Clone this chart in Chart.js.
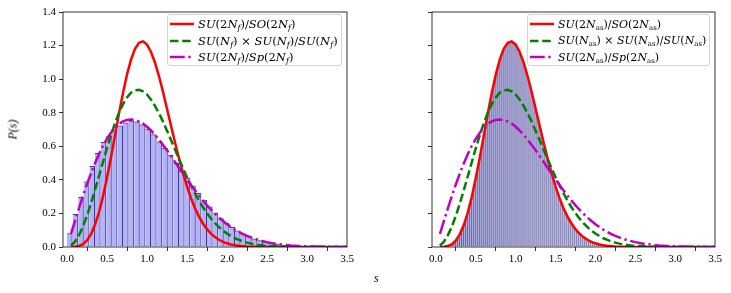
<!DOCTYPE html>
<html lang="en">
<head>
<meta charset="UTF-8">
<title>Level spacing distributions</title>
<script src="https://cdn.jsdelivr.net/npm/chart.js"></script>
<style>
  body { margin: 0; background: #fff; width: 731px; height: 293px; position: relative; overflow: hidden; font-family: 'Liberation Serif', serif; }
  canvas { position: absolute; top: 0; }
  .legend { position: absolute; top: 14px; height: 52px; background: rgba(255,255,255,0.85); border: 1px solid #d4d4d4; border-radius: 3px; font-family: 'DejaVu Serif', serif; font-size: 11.5px; padding: 1px 3px 0 2px; box-sizing: border-box; }
  .legend .row { display: flex; align-items: center; white-space: nowrap; height: 16.5px; }
  .legend svg { margin-right: 4px; flex: none; }
  .legend sub { font-size: 8px; vertical-align: -2px; line-height: 0; }
  .legend.as { font-size: 11px; }
  .legend.as sub { font-size: 7px; }
  .lbl { position: absolute; font-size: 12px; font-style: italic; }
</style>
</head>
<body>
<canvas id="left" width="360" height="293" style="left:0"></canvas>
<canvas id="right" width="361" height="293" style="left:370px"></canvas>

<div class="legend" style="left:167px; width:175px;">
  <div class="row"><svg width="24" height="6"><line x1="0" y1="3" x2="24" y2="3" stroke="#ff0000" stroke-width="2.5"/></svg><span><i>SU</i>(2<i>N</i><sub><i>f</i></sub>)/<i>SO</i>(2<i>N</i><sub><i>f</i></sub>)</span></div>
  <div class="row"><svg width="24" height="6"><line x1="0" y1="3" x2="24" y2="3" stroke="#008000" stroke-width="2.5" stroke-dasharray="8.5 3.7"/></svg><span><i>SU</i>(<i>N</i><sub><i>f</i></sub>) × <i>SU</i>(<i>N</i><sub><i>f</i></sub>)/<i>SU</i>(<i>N</i><sub><i>f</i></sub>)</span></div>
  <div class="row"><svg width="24" height="6"><line x1="0" y1="3" x2="24" y2="3" stroke="#bf00bf" stroke-width="2.5" stroke-dasharray="14.7 3.7 2.3 3.7"/></svg><span><i>SU</i>(2<i>N</i><sub><i>f</i></sub>)/<i>Sp</i>(2<i>N</i><sub><i>f</i></sub>)</span></div>
</div>
<div class="legend as" style="left:527px; width:183px;">
  <div class="row"><svg width="24" height="6"><line x1="0" y1="3" x2="24" y2="3" stroke="#ff0000" stroke-width="2.5"/></svg><span><i>SU</i>(2<i>N</i><sub>as</sub>)/<i>SO</i>(2<i>N</i><sub>as</sub>)</span></div>
  <div class="row"><svg width="24" height="6"><line x1="0" y1="3" x2="24" y2="3" stroke="#008000" stroke-width="2.5" stroke-dasharray="8.5 3.7"/></svg><span><i>SU</i>(<i>N</i><sub>as</sub>) × <i>SU</i>(<i>N</i><sub>as</sub>)/<i>SU</i>(<i>N</i><sub>as</sub>)</span></div>
  <div class="row"><svg width="24" height="6"><line x1="0" y1="3" x2="24" y2="3" stroke="#bf00bf" stroke-width="2.5" stroke-dasharray="14.7 3.7 2.3 3.7"/></svg><span><i>SU</i>(2<i>N</i><sub>as</sub>)/<i>Sp</i>(2<i>N</i><sub>as</sub>)</span></div>
</div>

<div class="lbl" style="left:0px; top:122px; transform:rotate(-90deg); transform-origin:center; width:26px; text-align:center;"><i>P</i>(<i>s</i>)</div>
<div class="lbl" style="left:374px; top:271px;">s</div>

<script>
// axis ticks
const xTicks = [0, 0.5, 1.0, 1.5, 2.0, 2.5, 3.0, 3.5];
const yTicks = [0, 0.2, 0.4, 0.6, 0.8, 1.0, 1.2, 1.4];

// histogram, left panel (fundamental), bin width 0.07 starting at 0
const leftBinWidth = 0.07;
const leftHist = [0.082, 0.196, 0.298, 0.390, 0.482, 0.560, 0.625, 0.662, 0.700, 0.724,
  0.742, 0.752, 0.748, 0.730, 0.705, 0.672, 0.628, 0.590, 0.550, 0.500,
  0.455, 0.412, 0.365, 0.322, 0.282, 0.242, 0.206, 0.172, 0.144, 0.119,
  0.098, 0.080, 0.064, 0.051, 0.040, 0.031, 0.024, 0.019, 0.014, 0.011,
  0.008, 0.006, 0.0045, 0.0033, 0.0024, 0.0017, 0.0012, 0.0009, 0.0006, 0.0004];

// histogram, right panel (antisymmetric), bin width 0.025 starting at 0
const rightBinWidth = 0.025;
const rightHist = [0.000, 0.000, 0.000, 0.001, 0.002, 0.004, 0.008, 0.014, 0.022, 0.033,
  0.048, 0.066, 0.089, 0.117, 0.149, 0.187, 0.229, 0.276, 0.328, 0.383,
  0.442, 0.504, 0.568, 0.633, 0.698, 0.763, 0.827, 0.888, 0.947, 1.001,
  1.051, 1.095, 1.133, 1.165, 1.188, 1.205, 1.214, 1.218, 1.216, 1.207,
  1.194, 1.175, 1.147, 1.115, 1.078, 1.038, 0.994, 0.948, 0.899, 0.850,
  0.799, 0.748, 0.697, 0.647, 0.598, 0.551, 0.505, 0.461, 0.419, 0.380,
  0.343, 0.308, 0.276, 0.246, 0.218, 0.193, 0.170, 0.150, 0.131, 0.114,
  0.099, 0.086, 0.074, 0.064, 0.055, 0.047, 0.040, 0.034, 0.028, 0.024,
  0.020, 0.017, 0.014, 0.012, 0.010, 0.008, 0.007, 0.005, 0.004, 0.004,
  0.003, 0.002];

// curves (Wigner surmise shapes)
const sGrid = [0.05, 0.1, 0.15, 0.2, 0.25, 0.3, 0.35, 0.4, 0.45, 0.5,
  0.55, 0.6, 0.65, 0.7, 0.75, 0.8, 0.85, 0.9, 0.95, 1.0,
  1.05, 1.1, 1.15, 1.2, 1.25, 1.3, 1.35, 1.4, 1.45, 1.5,
  1.55, 1.6, 1.65, 1.7, 1.75, 1.8, 1.85, 1.9, 1.95, 2.0,
  2.05, 2.1, 2.15, 2.2, 2.25, 2.3, 2.35, 2.4, 2.45, 2.5,
  2.6, 2.7, 2.8, 2.9, 3.0, 3.1, 3.2, 3.3, 3.4, 3.5];
const curveSO = [0.0001, 0.001, 0.006, 0.017, 0.039, 0.077, 0.132, 0.207, 0.301, 0.412,
  0.535, 0.665, 0.796, 0.918, 1.027, 1.116, 1.180, 1.217, 1.225, 1.206,
  1.162, 1.098, 1.017, 0.924, 0.824, 0.723, 0.623, 0.528, 0.440, 0.361,
  0.291, 0.231, 0.181, 0.140, 0.106, 0.080, 0.059, 0.043, 0.031, 0.022,
  0.015, 0.010, 0.007, 0.005, 0.003, 0.002, 0.001, 0.001, 0.0005, 0.0003,
  0.0001, 0, 0, 0, 0, 0, 0, 0, 0, 0];
const curveSU = [0.008, 0.032, 0.071, 0.123, 0.187, 0.260, 0.340, 0.423, 0.507, 0.590,
  0.667, 0.738, 0.800, 0.851, 0.891, 0.919, 0.934, 0.936, 0.927, 0.908,
  0.878, 0.841, 0.796, 0.747, 0.693, 0.637, 0.581, 0.524, 0.469, 0.416,
  0.366, 0.319, 0.276, 0.237, 0.201, 0.170, 0.142, 0.118, 0.097, 0.080,
  0.065, 0.052, 0.042, 0.033, 0.026, 0.020, 0.016, 0.012, 0.009, 0.007,
  0.004, 0.002, 0.001, 0.0006, 0.0003, 0.0001, 0, 0, 0, 0];
const curveSp = [0.078, 0.156, 0.232, 0.304, 0.374, 0.439, 0.499, 0.554, 0.603, 0.645,
  0.681, 0.710, 0.733, 0.748, 0.757, 0.760, 0.757, 0.748, 0.735, 0.716,
  0.694, 0.668, 0.639, 0.608, 0.576, 0.542, 0.507, 0.472, 0.437, 0.403,
  0.369, 0.337, 0.306, 0.276, 0.248, 0.222, 0.198, 0.175, 0.155, 0.136,
  0.119, 0.103, 0.090, 0.077, 0.066, 0.057, 0.048, 0.041, 0.035, 0.029,
  0.020, 0.014, 0.009, 0.006, 0.004, 0.0026, 0.0016, 0.0010, 0.0006, 0.0004];

const tickFont = { family: "'Liberation Serif', serif", size: 11 };

// draws the four spines on top of the data
const framePlugin = {
  id: 'frame',
  afterDatasetsDraw(chart) {
    const a = chart.chartArea, ctx = chart.ctx;
    ctx.save();
    ctx.strokeStyle = '#000';
    ctx.lineWidth = 0.8;
    ctx.strokeRect(a.left, a.top, a.right - a.left, a.bottom - a.top);
    ctx.restore();
  }
};

function toPoints(xs, ys) {
  return xs.map((x, i) => ({ x: x, y: ys[i] }));
}

function makeChart(id, hist, binWidth, yAxisWidth, padRight, showYLabels) {
  const bars = hist.map((v, i) => ({ x: (i + 0.5) * binWidth, y: v }));
  const lineStyle = { type: 'line', pointRadius: 0, borderWidth: 2.5, tension: 0, fill: false };
  return new Chart(document.getElementById(id), {
    type: 'bar',
    data: {
      datasets: [
        { data: bars, backgroundColor: 'rgba(0,0,255,0.3)', borderColor: 'rgba(30,30,80,0.85)',
          borderWidth: { top: 1, right: 1, left: 0, bottom: 0 }, inflateAmount: 0,
          barPercentage: 1, categoryPercentage: 1, order: 4 },
        Object.assign({ data: toPoints(sGrid, curveSO), borderColor: '#ff0000', order: 3 }, lineStyle),
        Object.assign({ data: toPoints(sGrid, curveSU), borderColor: '#008000', borderDash: [8.5, 3.7], order: 2 }, lineStyle),
        Object.assign({ data: toPoints(sGrid, curveSp), borderColor: '#bf00bf', borderDash: [14.7, 3.7, 2.3, 3.7], order: 1 }, lineStyle)
      ]
    },
    options: {
      responsive: false,
      animation: false,
      events: [],
      devicePixelRatio: 1,
      layout: { padding: { top: 12, right: padRight, left: 0, bottom: 0 } },
      plugins: { legend: { display: false }, tooltip: { enabled: false } },
      scales: {
        x: {
          type: 'linear', min: -0.05, max: 3.5, offset: false,
          afterBuildTicks: axis => { axis.ticks = xTicks.map(v => ({ value: v })); },
          afterFit: axis => { axis.height = 46; },
          ticks: { font: tickFont, color: '#000', padding: 2, maxRotation: 0, callback: v => v.toFixed(1) },
          grid: { drawOnChartArea: false, drawTicks: true, tickLength: 4, color: '#000', lineWidth: 0.8 },
          border: { display: false }
        },
        y: {
          min: 0, max: 1.4,
          afterBuildTicks: axis => { axis.ticks = yTicks.map(v => ({ value: v })); },
          afterFit: axis => { axis.width = yAxisWidth; },
          ticks: { font: tickFont, color: '#000', padding: 3, callback: v => showYLabels ? v.toFixed(1) : '' },
          grid: { drawOnChartArea: false, drawTicks: true, tickLength: 4, color: '#000', lineWidth: 0.8 },
          border: { display: false }
        }
      }
    },
    plugins: [framePlugin]
  });
}

makeChart('left', leftHist, leftBinWidth, 63, 13, true);
makeChart('right', rightHist, rightBinWidth, 62, 16, false);
</script>
</body>
</html>
